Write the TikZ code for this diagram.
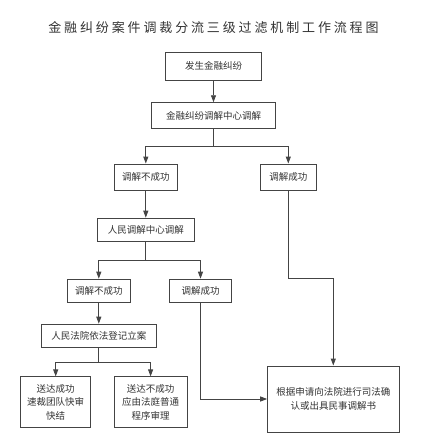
\documentclass[tikz,border=0pt]{standalone}
\usepackage{fontspec}
\newfontfamily\cjk{Noto Sans CJK SC}
\newfontfamily\titlefont[LetterSpace=22]{Noto Sans CJK SC}
\usetikzlibrary{arrows.meta}
\definecolor{linegray}{HTML}{444444}
\definecolor{textgray}{HTML}{333333}
\tikzset{
    box/.style={draw=linegray, line width=0.9pt, fill=white, inner sep=2pt,
        align=center, text=textgray, font=\cjk\fontsize{9.5}{13.5}\selectfont},
    arr/.style={draw=linegray, line width=0.9pt, -{Triangle[length=7pt,width=5pt]}},
    ln/.style={draw=linegray, line width=0.9pt}
}
\begin{document}
\begin{tikzpicture}[x=1pt,y=-1pt]
    \useasboundingbox (0,0) rectangle (427,448);
    % Title
    \node[text=textgray, font=\titlefont\fontsize{13}{15}\selectfont] (title) at (213.5,28) {金融纠纷案件调裁分流三级过滤机制工作流程图};
    % First level
    \node[box, minimum width=95.6pt, minimum height=27.3pt] (start) at (213.5,66.3) {发生金融纠纷};
    \node[box, minimum width=123.6pt, minimum height=25.6pt] (finmed) at (213.5,115.5) {金融纠纷调解中心调解};
    \node[box, minimum width=63pt, minimum height=26pt] (fail1) at (145.8,177) {调解不成功};
    \node[box, minimum width=56pt, minimum height=26pt] (ok1) at (288.3,177) {调解成功};
    % Second level
    \node[box, minimum width=97pt, minimum height=23.7pt] (peomed) at (145.8,230) {人民调解中心调解};
    \node[box, minimum width=62.3pt, minimum height=23.7pt] (fail2) at (98.8,291) {调解不成功};
    \node[box, minimum width=61.6pt, minimum height=23.7pt] (ok2) at (200.5,291) {调解成功};
    % Third level
    \node[box, minimum width=115pt, minimum height=23.7pt] (court) at (98.8,336) {人民法院依法登记立案};
    \node[box, minimum width=70pt, minimum height=50.3pt] (served) at (55.7,402) {送达成功\\速裁团队快审\\快结};
    \node[box, minimum width=72.7pt, minimum height=50.3pt] (unserved) at (150.6,402) {送达不成功\\应由法庭普通\\程序审理};
    \node[box, minimum width=131.3pt, minimum height=66pt] (confirm) at (333.3,399) {根据申请向法院进行司法确\\认或出具民事调解书};
    % Connectors
    \draw[arr] (start) -- (finmed);
    \draw[arr] (finmed.south) -- +(0,17.7) -| (fail1.north);
    \draw[arr] (finmed.south) -- +(0,17.7) -| (ok1.north);
    \draw[arr] (fail1) -- (peomed);
    \draw[arr] (peomed.south) -- +(0,18) -| (fail2.north);
    \draw[arr] (peomed.south) -- +(0,18) -| (ok2.north);
    \draw[arr] (fail2) -- (court);
    \draw[arr] (court.south) -- +(0,14) -| (served.north);
    \draw[arr] (court.south) -- +(0,14) -| (unserved.north);
    \draw[arr] (ok1.south) -- +(0,87.7) -| (confirm.north);
    \draw[arr] (ok2.south) |- (confirm.west);
\end{tikzpicture}
\end{document}
